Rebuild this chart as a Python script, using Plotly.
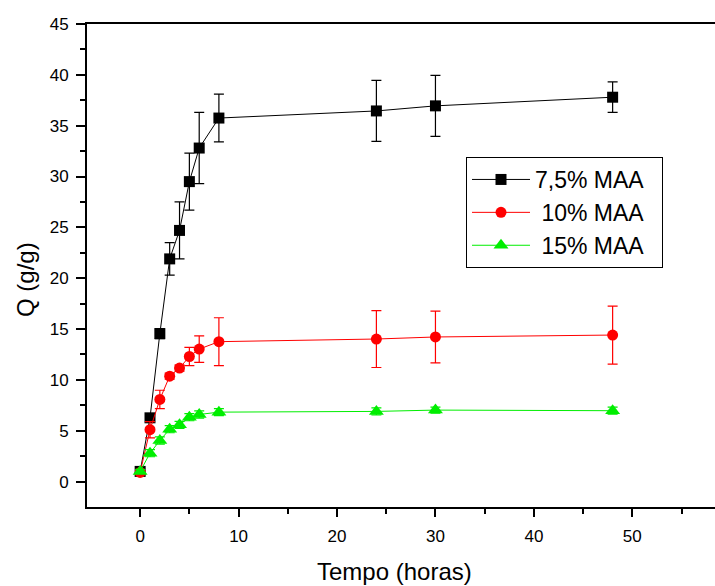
import plotly.graph_objects as go

tempo = [0, 1, 2, 3, 4, 5, 6, 8, 24, 30, 48]

q_75 = [1.0, 6.27, 14.55, 21.9, 24.7, 29.5, 32.8, 35.75, 36.45, 36.95, 37.8]
err_75 = [0.3, 0.3, 0.5, 1.6, 2.8, 2.8, 3.5, 2.35, 3.0, 3.0, 1.5]

q_10 = [0.9, 5.1, 8.08, 10.37, 11.16, 12.3, 13.03, 13.76, 14.02, 14.22, 14.41]
err_10 = [0.2, 0.8, 0.9, 0.3, 0.3, 0.9, 1.3, 2.35, 2.8, 2.55, 2.85]

q_15 = [1.0, 2.79, 4.04, 5.15, 5.58, 6.33, 6.6, 6.83, 6.9, 7.03, 6.97]
err_15 = [0.2, 0.35, 0.35, 0.35, 0.35, 0.35, 0.35, 0.35, 0.35, 0.3, 0.35]

series_names = ["7,5% MAA\u00a0\u00a0", "\u00a010% MAA\u00a0\u00a0", "\u00a015% MAA\u00a0\u00a0"]
series_colors = ["#000000", "#ff0000", "#00ee00"]
series_symbols = ["square", "circle", "triangle-up"]
series_sizes = [11, 11, 13]

x_title = "Tempo (horas)"
y_title = "Q (g/g)"

fig = go.Figure()
for ys, es, name, col, sym, sz in zip([q_75, q_10, q_15], [err_75, err_10, err_15],
                                      series_names, series_colors, series_symbols,
                                      series_sizes):
    fig.add_trace(go.Scatter(
        x=tempo, y=ys, name=name, mode="lines+markers",
        line=dict(color=col, width=1),
        marker=dict(symbol=sym, size=sz, color=col, line=dict(width=0)),
        error_y=dict(type="data", array=es, visible=True, color=col,
                     thickness=1.2, width=5),
    ))

W, H = 715, 586
ml, mr, mt, mb = 87, 0, 24, 79
pw = W - ml - mr
ph = H - mt - mb

fig.update_layout(
    width=W, height=H,
    margin=dict(l=ml, r=mr, t=mt, b=mb),
    paper_bgcolor="white", plot_bgcolor="white",
    font=dict(family="Liberation Sans, Arial, sans-serif", color="black", size=16),
    showlegend=True,
    legend=dict(
        x=(466 - ml) / pw, y=(H - mb - 157) / ph, xanchor="left", yanchor="top",
        bordercolor="black", borderwidth=1, bgcolor="white",
        font=dict(size=23, color="black"),
        itemwidth=58, tracegroupgap=0,
    ),
    xaxis=dict(
        range=[-5.4, 58.4], showgrid=False, zeroline=False,
        showline=True, linecolor="black", linewidth=2, mirror=True,
        ticks="outside", tickcolor="black", ticklen=8, tickwidth=1.5,
        tickmode="array", tickvals=[0, 10, 20, 30, 40, 50],
        tickfont=dict(size=17, color="black"), ticklabelstandoff=5,
        minor=dict(ticks="outside", ticklen=5, tickwidth=1.5, tickcolor="black",
                   tickmode="array", tickvals=[5, 15, 25, 35, 45, 55]),
    ),
    yaxis=dict(
        range=[-2.5, 45], showgrid=False, zeroline=False,
        showline=True, linecolor="black", linewidth=2, mirror=False,
        ticks="outside", tickcolor="black", ticklen=9, tickwidth=1.5,
        tickmode="array", tickvals=[0, 5, 10, 15, 20, 25, 30, 35, 40, 45],
        tickfont=dict(size=17, color="black"), ticklabelstandoff=4,
        minor=dict(ticks="outside", ticklen=5, tickwidth=1.5, tickcolor="black",
                   tickmode="array",
                   tickvals=[2.5, 7.5, 12.5, 17.5, 22.5, 27.5, 32.5, 37.5, 42.5]),
    ),
    annotations=[
        dict(text=x_title, xref="paper", yref="paper",
             x=(394 - ml) / pw, y=(H - mb - 571) / ph,
             xanchor="center", yanchor="middle", showarrow=False,
             font=dict(size=24, color="black")),
        dict(text=y_title, xref="paper", yref="paper",
             x=(25 - ml) / pw, y=(H - mb - 279) / ph,
             xanchor="center", yanchor="middle", showarrow=False, textangle=-90,
             font=dict(size=24, color="black")),
    ],
)

fig.write_html("out.html", config={"displayModeBar": False},
               post_script="document.body.style.margin='0';document.body.style.padding='0';")
